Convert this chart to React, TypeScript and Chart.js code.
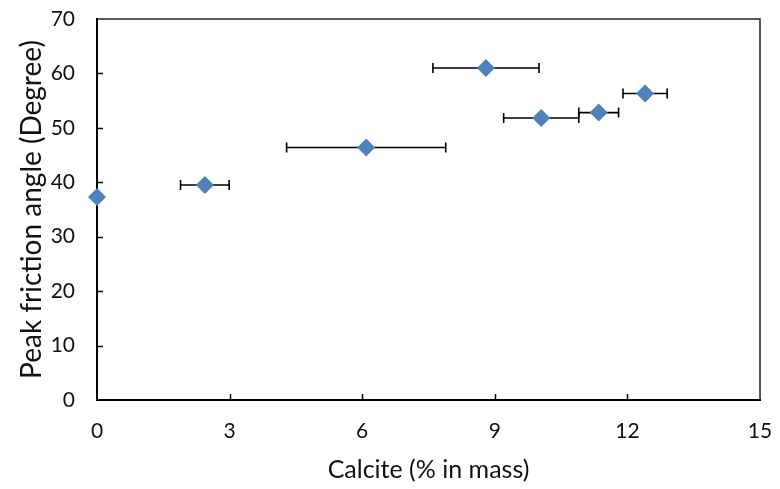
import React, { useEffect, useRef } from 'react';
import { Chart, registerables } from 'chart.js';

Chart.register(...registerables);

// Data
const calcite = [0, 2.44, 6.09, 8.8, 10.05, 11.35, 12.4];
const frictionAngle = [37.3, 39.5, 46.4, 61.0, 51.8, 52.8, 56.3];
const calciteError = [0, 0.55, 1.8, 1.2, 0.85, 0.45, 0.5];
const xTickValues = [0, 3, 6, 9, 12, 15];
const yTickValues = [0, 10, 20, 30, 40, 50, 60, 70];

const xTitle = 'Calcite (% in mass)';
const yTitle = 'Peak friction angle (Degree)';

const FONT = 'Lato, "Open Sans", "DejaVu Sans", sans-serif';
const TEXT = '#111111';
const MARKER = '#4F81BD';

const errorBarPlugin = {
  id: 'xErrorBars',
  beforeDatasetsDraw(chart: any) {
    const { ctx, scales } = chart;
    const xs = scales.x;
    const ys = scales.y;
    const data = chart.data.datasets[0].data as any[];
    ctx.save();
    ctx.strokeStyle = '#000000';
    ctx.lineWidth = 1.6;
    data.forEach((d) => {
      if (!d.xErr) return;
      const py = ys.getPixelForValue(d.y);
      const x1 = xs.getPixelForValue(d.x - d.xErr);
      const x2 = xs.getPixelForValue(d.x + d.xErr);
      ctx.beginPath();
      ctx.moveTo(x1, py);
      ctx.lineTo(x2, py);
      ctx.moveTo(x1, py - 5);
      ctx.lineTo(x1, py + 5);
      ctx.moveTo(x2, py - 5);
      ctx.lineTo(x2, py + 5);
      ctx.stroke();
    });
    ctx.restore();
  },
};

const framePlugin = {
  id: 'frameTicks',
  beforeDatasetsDraw(chart: any) {
    const { ctx, chartArea, scales } = chart;
    const { left, right, top, bottom } = chartArea;
    ctx.save();
    ctx.strokeStyle = '#222222';
    ctx.lineWidth = 1.5;
    ctx.beginPath();
    ctx.moveTo(left, top);
    ctx.lineTo(right, top);
    ctx.lineTo(right, bottom);
    ctx.stroke();
    ctx.strokeStyle = '#000000';
    ctx.lineWidth = 1.5;
    ctx.beginPath();
    yTickValues.forEach((v) => {
      if (v === yTickValues[0] || v === yTickValues[yTickValues.length - 1]) return;
      const py = Math.round(scales.y.getPixelForValue(v)) + 0.5;
      ctx.moveTo(left, py);
      ctx.lineTo(left + 6, py);
    });
    xTickValues.forEach((v) => {
      if (v === xTickValues[0] || v === xTickValues[xTickValues.length - 1]) return;
      const px = Math.round(scales.x.getPixelForValue(v)) + 0.5;
      ctx.moveTo(px, bottom);
      ctx.lineTo(px, bottom - 6);
    });
    ctx.stroke();
    ctx.restore();
  },
};

export default function App() {
  const canvasRef = useRef<HTMLCanvasElement | null>(null);

  useEffect(() => {
    document.body.style.margin = '0';
    const canvas = canvasRef.current;
    if (!canvas) return;
    const points = calcite.map((x, i) => ({ x, y: frictionAngle[i], xErr: calciteError[i] }));
    const chart = new Chart(canvas, {
      type: 'scatter',
      data: {
        datasets: [
          {
            data: points as any,
            pointStyle: 'rectRot',
            pointRadius: 9,
            pointHoverRadius: 9,
            backgroundColor: MARKER,
            borderColor: MARKER,
            borderWidth: 0,
            clip: false as any,
          },
        ],
      },
      options: {
        responsive: false,
        animation: false,
        events: [],
        layout: { padding: { top: 19, right: 20, left: 0, bottom: 0 } },
        plugins: {
          legend: { display: false },
          tooltip: { enabled: false },
          title: { display: false },
        },
        scales: {
          x: {
            type: 'linear',
            min: 0,
            max: 15,
            afterBuildTicks: (scale: any) => {
              scale.ticks = xTickValues.map((v) => ({ value: v }));
            },
            afterFit: (scale: any) => {
              scale.height = 89;
              scale.paddingLeft = 0;
              scale.paddingRight = 0;
            },
            grid: { display: false, drawTicks: false },
            border: { display: true, color: '#000000', width: 2 },
            ticks: {
              padding: 19,
              color: TEXT,
              font: { family: FONT, size: 21 },
              maxRotation: 0,
            },
            title: {
              display: true,
              text: xTitle,
              color: TEXT,
              font: { family: FONT, size: 25 },
              padding: { top: 0, bottom: 4 },
            },
          },
          y: {
            type: 'linear',
            min: 0,
            max: 70,
            afterBuildTicks: (scale: any) => {
              scale.ticks = yTickValues.map((v) => ({ value: v }));
            },
            afterFit: (scale: any) => {
              scale.width = 97;
              scale.paddingTop = 0;
              scale.paddingBottom = 0;
            },
            grid: { display: false, drawTicks: false },
            border: { display: true, color: '#000000', width: 2 },
            ticks: {
              padding: 22,
              color: TEXT,
              font: { family: FONT, size: 21 },
            },
            title: {
              display: true,
              text: yTitle,
              color: TEXT,
              font: { family: FONT, size: 28 },
              padding: { top: 15, bottom: 0 },
            },
          },
        },
      },
      plugins: [errorBarPlugin, framePlugin],
    });
    return () => chart.destroy();
  }, []);

  return (
    <div style={{ width: 780, height: 489, background: '#ffffff' }}>
      <canvas ref={canvasRef} width={780} height={489} style={{ display: 'block' }} />
    </div>
  );
}
